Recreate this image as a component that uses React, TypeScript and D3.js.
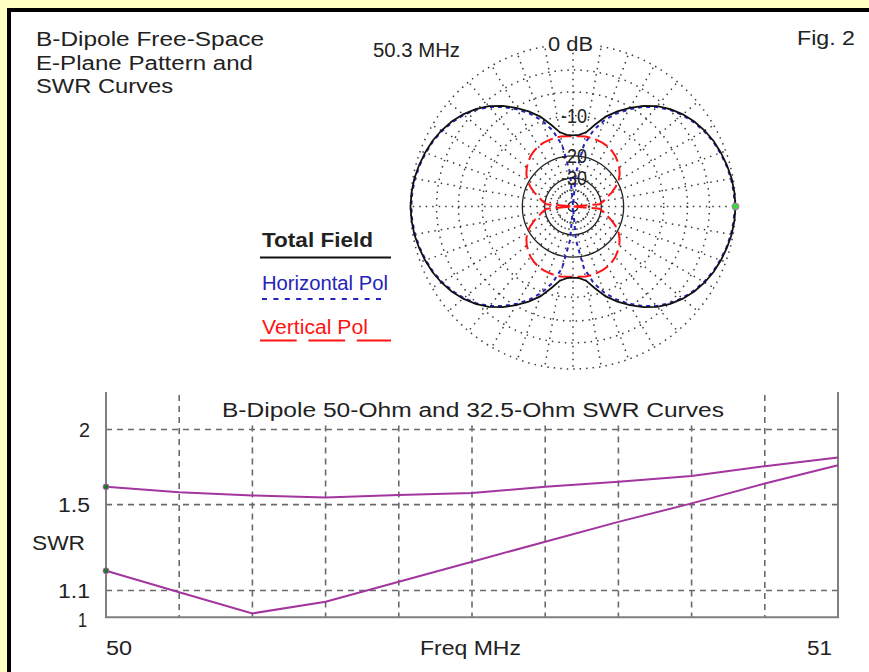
import React from "react";
import * as d3 from "d3";

// E-plane pattern, one quadrant (0..90 deg from the horizontal); the plot is symmetric
// about both axes. Values are attenuation below the maximum, in dB (99 = deep null).
const patternAngles = [0, 5, 10, 15, 20, 25, 30, 35, 40, 45, 50, 55, 60, 65, 70, 75, 80, 85, 90];
const totalField = [0, 0.05, 0.15, 0.33, 0.55, 0.8, 1.15, 1.6, 2.15, 2.85, 3.7, 4.8, 6.1, 7.5, 9.1, 11.2, 13.2, 14.0, 14.2];
const horizontalPol = [0.08, 0.12, 0.22, 0.4, 0.62, 0.88, 1.25, 1.7, 2.25, 2.95, 3.85, 5.0, 6.35, 7.9, 9.8, 12.4, 16.5, 27, 99];
const verticalPol = [99, 31, 28.5, 26.3, 23.5, 21.2, 19.3, 18, 17, 16.2, 15.5, 15, 14.6, 14.4, 14.3, 14.2, 14.2, 14.3, 14.4];

const ringDb = [0, 3, 6, 10, 20, 30, 40, 50];
const solidRings = [20, 30];
const ringLabels = [
  { db: 0, text: "0 dB" },
  { db: 10, text: "-10" },
  { db: 20, text: "-20" },
  { db: 30, text: "-30" },
];

// SWR curves
const freqs = [50.0, 50.1, 50.2, 50.3, 50.4, 50.5, 50.6, 50.7, 50.8, 50.9, 51.0];
const swr50 = [1.603, 1.571, 1.552, 1.541, 1.554, 1.567, 1.603, 1.634, 1.67, 1.733, 1.792];
const swr325 = [1.18, 1.093, 1.014, 1.057, 1.135, 1.219, 1.31, 1.408, 1.507, 1.623, 1.74];
const swrTicks = ["2", "1.5", "1.1", "1"];
const swrGrid = [2, 1.5, 1.1];
const freqGrid = [50.1, 50.2, 50.3, 50.4, 50.5, 50.6, 50.7, 50.8, 50.9];
const tallGrid = [50.1, 50.9];

const FONT = "'Liberation Sans', Arial, sans-serif";
const INK = "#222";
const PURPLE = "#a3359f";
const BLUE = "#2424b8";
const RED = "#ff1414";

const cx = 573;
const cy = 206.5;
const R = 162.5;

const rLin = d3.scaleLinear().domain([0, 1]).range([0, R]);
// ARRL log scale: 0.89 of the radius per 2 dB
const rOf = (att: number) => rLin(Math.pow(0.89, att / 2));

const fullCircle = (q: number[]): [number, number][] =>
  d3.range(0, 360, 5).map((a) => {
    const ref = a <= 90 ? a : a <= 180 ? 180 - a : a <= 270 ? a - 180 : 360 - a;
    return [a, q[patternAngles.indexOf(ref)]] as [number, number];
  });

const radial = d3
  .lineRadial<[number, number]>()
  .angle((d) => ((90 - d[0]) * Math.PI) / 180)
  .radius((d) => rOf(d[1]))
  .curve(d3.curveLinearClosed);

const x = d3.scaleLinear().domain([50, 51]).range([106, 838]);
const gLin = d3.scaleLinear().domain([0, 0.4]).range([617.3, 392]);
const y = (s: number) => gLin((s - 1) / (s + 1));
const swrLine = d3
  .line<number>()
  .x((_, i) => x(freqs[i]))
  .y((d) => y(d));

const T = ({ x, y, w, anchor = "start", fill = INK, weight = "normal", size = 20, children }: any) => (
  <text
    x={x}
    y={y}
    textLength={w}
    lengthAdjust="spacingAndGlyphs"
    textAnchor={anchor}
    fill={fill}
    fontWeight={weight}
    fontSize={size}
    fontFamily={FONT}
  >
    {children}
  </text>
);

const dot = { stroke: "#3a3a3a", strokeWidth: 1.5, strokeDasharray: "1.5,5", fill: "none" };

export default function App() {
  const bottom = 617.3;
  const top = 392;
  const tickW: Record<string, number> = { "2": 11, "1.5": 32, "1.1": 32, "1": 9 };
  return (
    <div style={{ position: "absolute", left: 0, top: 0 }}>
      <svg width={869} height={672}>
        <rect width={869} height={672} fill="#ffffc4" />
        <rect x={9} y={10} width={860} height={662} fill="#fff" />
        <line x1={9} y1={8} x2={9} y2={672} stroke="#000" strokeWidth={4} />
        <line x1={7} y1={10} x2={869} y2={10} stroke="#000" strokeWidth={4} />

        <T x={36} y={46} w={228}>B-Dipole Free-Space</T>
        <T x={36} y={69.5} w={217}>E-Plane Pattern and</T>
        <T x={36} y={93} w={137}>SWR Curves</T>
        <T x={373} y={56.5} w={87}>50.3 MHz</T>
        <T x={797} y={44.5} w={58}>Fig. 2</T>

        {/* polar grid */}
        <g transform={`translate(${cx},${cy})`}>
          {d3.range(0, 360, 10).map((a) => {
            const t = (a * Math.PI) / 180;
            const r0 = rOf(40);
            return (
              <line
                key={a}
                x1={r0 * Math.cos(t)}
                y1={-r0 * Math.sin(t)}
                x2={R * Math.cos(t)}
                y2={-R * Math.sin(t)}
                {...dot}
              />
            );
          })}
          {ringDb.map((db) =>
            solidRings.includes(db) ? (
              <circle key={db} r={rOf(db)} fill="none" stroke="#222" strokeWidth={1.3} />
            ) : (
              <circle key={db} r={rOf(db)} {...dot} />
            )
          )}
          <circle r={rOf(60)} fill="none" stroke="#222" strokeWidth={1.3} />

          <path d={radial(fullCircle(horizontalPol)) ?? ""} fill="none" stroke={BLUE} strokeWidth={2} strokeDasharray="4,4" />
          <path d={radial(fullCircle(verticalPol)) ?? ""} fill="none" stroke={RED} strokeWidth={2} strokeDasharray="14,5" />
          <path d={radial(fullCircle(totalField)) ?? ""} fill="none" stroke="#111" strokeWidth={1.8} />

          <circle cx={rOf(totalField[0])} cy={0} r={3.5} fill="#33dd33" stroke="#dd55dd" strokeWidth={0.8} />

          <rect x={-27} y={-R - 8} width={50} height={16} fill="#fff" />
          {ringLabels.map((l) => (
            <T key={l.text} x={l.db === 0 ? -2.5 : 1} y={-rOf(l.db) + 7} w={l.db === 0 ? 45 : 26} anchor="middle">
              {l.text}
            </T>
          ))}
        </g>

        {/* legend */}
        <T x={262} y={246.7} w={111} weight="bold">Total Field</T>
        <line x1={260} y1={257.5} x2={391} y2={257.5} stroke="#111" strokeWidth={2} />
        <T x={262} y={290} w={126} fill={BLUE}>Horizontal Pol</T>
        <line x1={262} y1={299} x2={387} y2={299} stroke={BLUE} strokeWidth={2} strokeDasharray="5,6.4" />
        <T x={262} y={333.5} w={106} fill={RED}>Vertical Pol</T>
        <line x1={260} y1={340.5} x2={391} y2={340.5} stroke={RED} strokeWidth={2} strokeDasharray="36.7,11.7" />

        {/* SWR chart */}
        {freqGrid.map((f) => (
          <line
            key={f}
            x1={x(f)}
            x2={x(f)}
            y1={tallGrid.includes(f) ? top + 3 : y(2) - 4}
            y2={bottom}
            stroke="#6a6a6a"
            strokeWidth={1.6}
            strokeDasharray="6,5"
          />
        ))}
        {swrGrid.map((s) => (
          <line key={s} x1={x(50)} x2={x(51)} y1={y(s)} y2={y(s)} stroke="#6a6a6a" strokeWidth={1.6} strokeDasharray="6,5" />
        ))}
        <path d={`M${x(50)},${top}V${bottom}H${x(51)}V${top}`} fill="none" stroke="#808080" strokeWidth={2} />

        <T x={222} y={416.5} w={502}>B-Dipole 50-Ohm and 32.5-Ohm SWR Curves</T>

        <path d={swrLine(swr50) ?? ""} fill="none" stroke={PURPLE} strokeWidth={2} />
        <path d={swrLine(swr325) ?? ""} fill="none" stroke={PURPLE} strokeWidth={2} />
        {[swr50[0], swr325[0]].map((s, i) => (
          <circle key={i} cx={x(freqs[0])} cy={y(s)} r={3} fill="#1f7a2a" stroke="#d050d0" strokeWidth={0.8} />
        ))}

        {swrTicks.map((t) => (
          <T key={t} x={t === "1" ? 87 : 90} y={y(+t) + (t === "1" ? 9.5 : 7.5)} w={tickW[t]} anchor="end">
            {t}
          </T>
        ))}
        <T x={32} y={550} w={53}>SWR</T>
        <T x={106} y={655} w={26}>50</T>
        <T x={832} y={655} w={25} anchor="end">51</T>
        <T x={470.5} y={655} w={101} anchor="middle">Freq MHz</T>
      </svg>
    </div>
  );
}
